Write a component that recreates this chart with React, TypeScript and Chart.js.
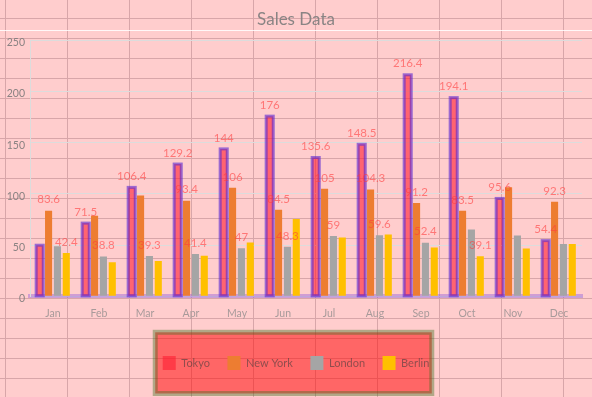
import React, { useEffect, useRef } from 'react';
import { Chart, registerables } from 'chart.js';

Chart.register(...registerables);

const months = ['Jan', 'Feb', 'Mar', 'Apr', 'May', 'Jun', 'Jul', 'Aug', 'Sep', 'Oct', 'Nov', 'Dec'];
const seriesNames = ['Tokyo', 'New York', 'London', 'Berlin'];

const tokyo = [49.9, 71.5, 106.4, 129.2, 144.0, 176.0, 135.6, 148.5, 216.4, 194.1, 95.6, 54.4];
const newYork = [83.6, 78.8, 98.5, 93.4, 106.0, 84.5, 105.0, 104.3, 91.2, 83.5, 106.6, 92.3];
const london = [48.9, 38.8, 39.3, 41.4, 47.0, 48.3, 59.0, 59.6, 52.4, 65.2, 59.3, 51.2];
const berlin = [42.4, 33.2, 34.5, 39.7, 52.6, 75.5, 57.4, 60.4, 47.6, 39.1, 46.8, 51.1];

// which value labels are visible in the reference (others are hidden by overlap)
const tokyoLabelShown = [false, true, true, true, true, true, true, true, true, true, true, true];
const newYorkLabelShown = [true, false, false, true, true, true, true, true, true, true, false, true];
const londonLabelShown = [false, true, true, true, true, true, true, true, true, false, false, false];
const berlinLabelShown = [true, false, false, false, false, false, false, false, false, true, false, false];

const yTickMin = 0;
const yTickMax = 250;
const yTickStep = 50;

const FONT = "Lato, 'DejaVu Sans', sans-serif";

const sheetBackground = {
  id: 'sheetBackground',
  beforeDraw(chart: any) {
    const { ctx, width, height } = chart;
    ctx.save();
    ctx.fillStyle = '#ffcdcd';
    ctx.fillRect(0, 0, width, height);
    ctx.strokeStyle = '#d8a6a9';
    ctx.lineWidth = 1;
    ctx.beginPath();
    for (let x = 5.5; x < width; x += 62) {
      ctx.moveTo(x, 0);
      ctx.lineTo(x, height);
    }
    for (let y = 18.5; y < height; y += 20) {
      ctx.moveTo(0, y);
      ctx.lineTo(width, y);
    }
    ctx.stroke();
    ctx.strokeStyle = 'rgba(255,255,255,0.85)';
    ctx.beginPath();
    ctx.moveTo(0, 30.5);
    ctx.lineTo(width, 30.5);
    ctx.stroke();

    const legend = chart.legend;
    if (legend && legend.legendHitBoxes && legend.legendHitBoxes.length) {
      const hb = legend.legendHitBoxes;
      const first = hb[0];
      const last = hb[hb.length - 1];
      const x1 = first.left - 7.5;
      const x2 = last.left + last.width + 2.5;
      const y1 = first.top - 23.7;
      const y2 = first.top + first.height + 23.5;
      ctx.fillStyle = 'rgba(255,0,0,0.5)';
      ctx.fillRect(x1, y1, x2 - x1, y2 - y1);
      ctx.strokeStyle = 'rgba(60,110,30,0.4)';
      ctx.lineWidth = 5;
      ctx.strokeRect(x1, y1, x2 - x1, y2 - y1);
    }
    ctx.restore();
  },
};

const barDecor = {
  id: 'barDecor',
  afterDatasetsDraw(chart: any) {
    const { ctx } = chart;
    ctx.save();
    // Tokyo outline
    const meta0 = chart.getDatasetMeta(0);
    ctx.strokeStyle = 'rgba(90,40,210,0.6)';
    ctx.lineWidth = 3;
    meta0.data.forEach((bar: any) => {
      const p = bar.getProps(['x', 'y', 'base', 'width'], true);
      ctx.strokeRect(p.x - p.width / 2, p.y, p.width, p.base - p.y);
    });
    // value labels
    const shown = [tokyoLabelShown, newYorkLabelShown, londonLabelShown, berlinLabelShown];
    ctx.font = `11.5px ${FONT}`;
    ctx.textAlign = 'center';
    ctx.textBaseline = 'middle';
    ctx.fillStyle = 'rgba(255,60,60,0.6)';
    chart.data.datasets.forEach((ds: any, i: number) => {
      const meta = chart.getDatasetMeta(i);
      meta.data.forEach((bar: any, j: number) => {
        if (!shown[i][j]) return;
        const p = bar.getProps(['x', 'y'], true);
        const v = ds.data[j];
        ctx.fillText(String(v), p.x, p.y - 11);
      });
    });
    ctx.restore();
  },
};

export default function App() {
  const ref = useRef<HTMLCanvasElement | null>(null);

  useEffect(() => {
    const canvas = ref.current;
    if (!canvas) return;
    const chart = new Chart(canvas, {
      type: 'bar',
      data: {
        labels: months,
        datasets: [
          { label: seriesNames[0], data: tokyo, backgroundColor: 'rgba(255,30,50,0.6)', borderWidth: 0, yAxisID: 'y' },
          { label: seriesNames[1], data: newYork, backgroundColor: '#ED7D31', borderWidth: 0, yAxisID: 'y' },
          { label: seriesNames[2], data: london, backgroundColor: '#A5A5A5', borderWidth: 0, yAxisID: 'y' },
          { label: seriesNames[3], data: berlin, backgroundColor: '#FFC000', borderWidth: 0, yAxisID: 'y' },
        ],
      },
      options: {
        responsive: false,
        animation: false,
        devicePixelRatio: 1,
        events: [],
        layout: { padding: { top: 0, left: 0, right: 0, bottom: 17 } },
        datasets: { bar: { categoryPercentage: 0.77, barPercentage: 0.8 } } as any,
        plugins: {
          title: {
            display: true,
            text: 'Sales Data',
            color: '#8a8484',
            font: { family: FONT, size: 17, weight: 'normal' },
            padding: { top: 9, bottom: 11 },
          },
          legend: {
            position: 'bottom',
            labels: {
              boxWidth: 13,
              boxHeight: 14,
              padding: 17.5,
              color: 'rgba(70,60,60,0.6)',
              font: { family: FONT, size: 11 },
            },
          },
          tooltip: { enabled: false },
        },
        scales: {
          x: {
            grid: { display: false },
            border: { display: true, color: 'rgba(150,100,220,0.45)', width: 4 },
            ticks: { color: '#a89a9a', font: { family: FONT, size: 10.5 }, padding: 3.4 },
            afterFit: (s: any) => { s.height = 42.2; },
          },
          y: {
            min: yTickMin,
            max: yTickMax,
            ticks: { stepSize: yTickStep, color: '#8a8282', font: { family: FONT, size: 10.5 }, padding: 5, labelOffset: 2.5 },
            grid: { color: '#dcdcdc', drawTicks: false },
            border: { color: '#dcdcdc', width: 1 },
            afterFit: (s: any) => { s.width = 30; },
          },
          yRight: {
            position: 'right',
            display: true,
            grid: { display: false },
            border: { display: false },
            ticks: { display: false },
            afterFit: (s: any) => { s.width = 10; },
          },
        },
      } as any,
      plugins: [sheetBackground, barDecor],
    });
    return () => chart.destroy();
  }, []);

  return (
    <canvas
      ref={ref}
      width={592}
      height={397}
      style={{ position: 'fixed', left: 0, top: 0, width: 592, height: 397, display: 'block' }}
    />
  );
}
